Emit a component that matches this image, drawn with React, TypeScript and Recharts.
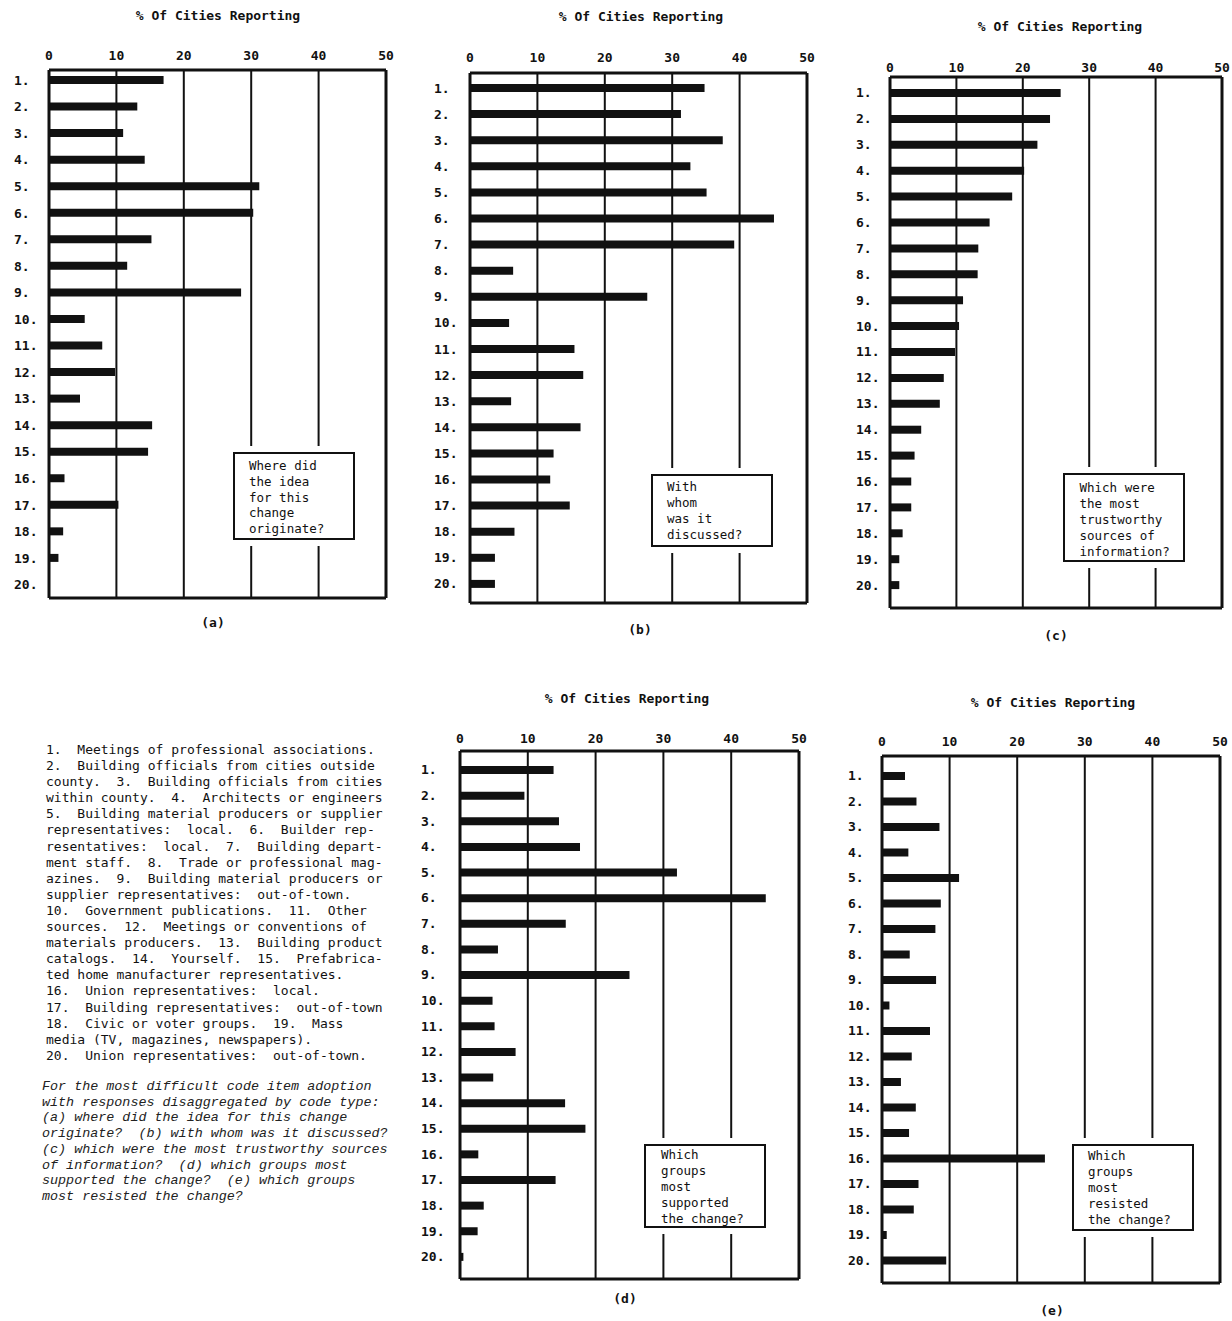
import React from 'react';
import { BarChart, Bar, XAxis, YAxis, CartesianGrid } from 'recharts';

// Item numbers shared by all five panels
const categories = [
  '1.', '2.', '3.', '4.', '5.', '6.', '7.', '8.', '9.', '10.',
  '11.', '12.', '13.', '14.', '15.', '16.', '17.', '18.', '19.', '20.',
];

const percentTicks = [0, 10, 20, 30, 40, 50];
const axisTitle = '% Of Cities Reporting';

// % of cities reporting each source / group
const ideaOrigin = [17.0, 13.1, 11.0, 14.2, 31.2, 30.3, 15.2, 11.6, 28.5, 5.3, 7.9, 9.8, 4.6, 15.3, 14.7, 2.3, 10.3, 2.1, 1.4, 0];
const discussedWith = [34.8, 31.3, 37.5, 32.7, 35.1, 45.1, 39.2, 6.4, 26.3, 5.8, 15.5, 16.8, 6.1, 16.4, 12.4, 11.9, 14.8, 6.6, 3.7, 3.7];
const trustworthySources = [25.7, 24.1, 22.2, 20.2, 18.4, 15.0, 13.3, 13.2, 11.0, 10.4, 9.8, 8.1, 7.5, 4.7, 3.7, 3.2, 3.2, 1.9, 1.4, 1.4];
const supportedChange = [13.8, 9.5, 14.6, 17.7, 32.0, 45.1, 15.6, 5.6, 25.0, 4.8, 5.1, 8.2, 4.9, 15.5, 18.5, 2.7, 14.1, 3.5, 2.6, 0.5];
const resistedChange = [3.4, 5.1, 8.5, 3.9, 11.4, 8.7, 7.9, 4.1, 8.0, 1.1, 7.1, 4.4, 2.8, 5.0, 4.0, 24.1, 5.4, 4.7, 0.7, 9.5];

const questionA = ['Where did', 'the idea', 'for this', 'change', 'originate?'];
const questionB = ['With', 'whom', 'was it', 'discussed?'];
const questionC = ['Which were', 'the most', 'trustworthy', 'sources of', 'information?'];
const questionD = ['Which', 'groups', 'most', 'supported', 'the change?'];
const questionE = ['Which', 'groups', 'most', 'resisted', 'the change?'];

const legendLines = [
  '1.  Meetings of professional associations.',
  '2.  Building officials from cities outside',
  'county.  3.  Building officials from cities',
  'within county.  4.  Architects or engineers',
  '5.  Building material producers or supplier',
  'representatives:  local.  6.  Builder rep-',
  'resentatives:  local.  7.  Building depart-',
  'ment staff.  8.  Trade or professional mag-',
  'azines.  9.  Building material producers or',
  'supplier representatives:  out-of-town.',
  '10.  Government publications.  11.  Other',
  'sources.  12.  Meetings or conventions of',
  'materials producers.  13.  Building product',
  'catalogs.  14.  Yourself.  15.  Prefabrica-',
  'ted home manufacturer representatives.',
  '16.  Union representatives:  local.',
  '17.  Building representatives:  out-of-town',
  '18.  Civic or voter groups.  19.  Mass',
  'media (TV, magazines, newspapers).',
  '20.  Union representatives:  out-of-town.',
];

const captionLines = [
  'For the most difficult code item adoption',
  'with responses disaggregated by code type:',
  '(a) where did the idea for this change',
  'originate?  (b) with whom was it discussed?',
  '(c) which were the most trustworthy sources',
  'of information?  (d) which groups most',
  'supported the change?  (e) which groups',
  'most resisted the change?',
];

const MONO = '"DejaVu Sans Mono", "Liberation Mono", monospace';
const INK = '#111';

// Layout of each panel on the page
const panels = [
  {
    id: 'a', values: ideaOrigin, question: questionA,
    plot: { left: 49, top: 70, right: 386, bottom: 598 }, pad: { top: -3, bottom: 0 },
    tickMargin: 10.5, labelX: 14, title: { cx: 218, cy: 16 }, letter: { cx: 213, cy: 623 },
    box: { left: 233, top: 452, width: 122, height: 88, dx: 16, first: 14, step: 15.75 },
  },
  {
    id: 'b', values: discussedWith, question: questionB,
    plot: { left: 470, top: 73, right: 807, bottom: 603 }, pad: { top: 2, bottom: 6 },
    tickMargin: 11.5, labelX: 434, title: { cx: 641, cy: 17 }, letter: { cx: 640, cy: 630 },
    box: { left: 651, top: 474, width: 122, height: 73, dx: 16, first: 13.3, step: 16 },
  },
  {
    id: 'c', values: trustworthySources, question: questionC,
    plot: { left: 890, top: 77, right: 1222, bottom: 608 }, pad: { top: 3, bottom: 10 },
    tickMargin: 5.5, labelX: 856, title: { cx: 1060, cy: 27 }, letter: { cx: 1056, cy: 636 },
    box: { left: 1063, top: 473, width: 122, height: 89, dx: 16.5, first: 15, step: 16 },
  },
  {
    id: 'd', values: supportedChange, question: questionD,
    plot: { left: 460, top: 751, right: 799, bottom: 1279 }, pad: { top: 6, bottom: 9.5 },
    tickMargin: 8, labelX: 421, title: { cx: 627, cy: 699 }, letter: { cx: 625, cy: 1299 },
    box: { left: 644, top: 1144, width: 122, height: 84, dx: 17, first: 11, step: 16 },
  },
  {
    id: 'e', values: resistedChange, question: questionE,
    plot: { left: 882, top: 756, right: 1220, bottom: 1283 }, pad: { top: 7, bottom: 10 },
    tickMargin: 10, labelX: 848, title: { cx: 1053, cy: 703 }, letter: { cx: 1052, cy: 1311 },
    box: { left: 1072, top: 1144, width: 122, height: 87, dx: 16, first: 12, step: 16 },
  },
];

const YW = 45; // left category axis width
const XH = 30; // top value axis height
const M = 4;
const MR = 16; // room on the right for the "50" tick label

function CategoryTick(props: any) {
  const { y, payload, labelX } = props;
  return (
    <text x={labelX} y={y} dy={4.5} textAnchor="start" fontFamily={MONO} fontSize={13} fontWeight="bold" fill={INK}>
      {payload.value}
    </text>
  );
}

function Panel({ p }: { p: (typeof panels)[number] }) {
  const plotW = p.plot.right - p.plot.left;
  const plotH = p.plot.bottom - p.plot.top;
  const left = p.plot.left - YW - M;
  const top = p.plot.top - XH - M;
  const width = M + YW + plotW + 1 + MR;
  const height = M + XH + plotH + 1 + M;
  const labelX = p.labelX - left;
  const data = categories.map((label, i) => ({ label, value: p.values[i] }));
  const frame = { stroke: INK, strokeWidth: 3 };

  return (
    <>
      <div style={{ position: 'absolute', left, top, width, height }}>
        <BarChart
          width={width}
          height={height}
          data={data}
          layout="vertical"
          margin={{ top: M, right: MR, bottom: M, left: M }}
        >
          <CartesianGrid xAxisId="top" yAxisId="left" horizontal={false} stroke={INK} strokeWidth={2} />
          <XAxis
            xAxisId="top"
            orientation="top"
            type="number"
            domain={[0, 50]}
            ticks={percentTicks}
            interval={0}
            height={XH}
            tickLine={false}
            tickSize={0}
            tickMargin={p.tickMargin}
            axisLine={frame}
            tick={{ fill: INK, fontFamily: MONO, fontSize: 13, fontWeight: 'bold' }}
          />
          <XAxis
            xAxisId="bottom"
            orientation="bottom"
            type="number"
            domain={[0, 50]}
            height={1}
            tick={false}
            tickLine={false}
            axisLine={frame}
          />
          <YAxis
            yAxisId="left"
            orientation="left"
            type="category"
            dataKey="label"
            width={YW}
            interval={0}
            padding={p.pad}
            tickLine={false}
            axisLine={frame}
            tick={(tp: any) => <CategoryTick {...tp} labelX={labelX} />}
          />
          <YAxis
            yAxisId="right"
            orientation="right"
            type="category"
            dataKey="label"
            width={1}
            tick={false}
            tickLine={false}
            axisLine={frame}
          />
          <Bar
            xAxisId="top"
            yAxisId="left"
            dataKey="value"
            fill={INK}
            barSize={8}
            isAnimationActive={false}
          />
        </BarChart>
      </div>
      <div
        style={{
          position: 'absolute', left: p.title.cx - 150, top: p.title.cy - 8, width: 300, lineHeight: '16px',
          textAlign: 'center', fontFamily: MONO, fontSize: 13, fontWeight: 'bold', color: INK, whiteSpace: 'pre',
        }}
      >
        {axisTitle}
      </div>
      <div
        style={{
          position: 'absolute', left: p.letter.cx - 30, top: p.letter.cy - 8, width: 60, lineHeight: '16px',
          textAlign: 'center', fontFamily: MONO, fontSize: 13, fontWeight: 'bold', color: INK,
        }}
      >
        ({p.id})
      </div>
      <div
        style={{
          position: 'absolute', left: p.box.left, top: p.box.top, width: p.box.width, height: p.box.height,
          boxSizing: 'border-box', border: `2px solid ${INK}`, background: '#fff', boxShadow: '0 0 0 6px #fff',
        }}
      >
        {p.question.map((line, k) => (
          <div
            key={k}
            style={{
              position: 'absolute', left: p.box.dx - 2, top: p.box.first + k * p.box.step - 8 - 2,
              lineHeight: '16px', fontFamily: MONO, fontSize: 12.5, color: INK, whiteSpace: 'pre',
            }}
          >
            {line}
          </div>
        ))}
      </div>
    </>
  );
}

export default function App() {
  return (
    <div
      style={{
        position: 'absolute', left: 0, top: 0, width: 1232, height: 1321,
        background: '#fff', overflow: 'hidden', color: INK,
      }}
    >
      {panels.map((p) => (
        <Panel key={p.id} p={p} />
      ))}
      <div style={{ position: 'absolute', left: 46, top: 742, fontFamily: MONO, fontSize: 13, lineHeight: '16.1px', color: INK }}>
        {legendLines.map((line, k) => (
          <div key={k} style={{ whiteSpace: 'pre' }}>{line}</div>
        ))}
      </div>
      <div
        style={{
          position: 'absolute', left: 42, top: 1079, fontFamily: '"Liberation Mono", monospace', fontStyle: 'italic',
          fontSize: 13.4, lineHeight: '15.7px', color: '#222',
        }}
      >
        {captionLines.map((line, k) => (
          <div key={k} style={{ whiteSpace: 'pre' }}>{line}</div>
        ))}
      </div>
    </div>
  );
}
